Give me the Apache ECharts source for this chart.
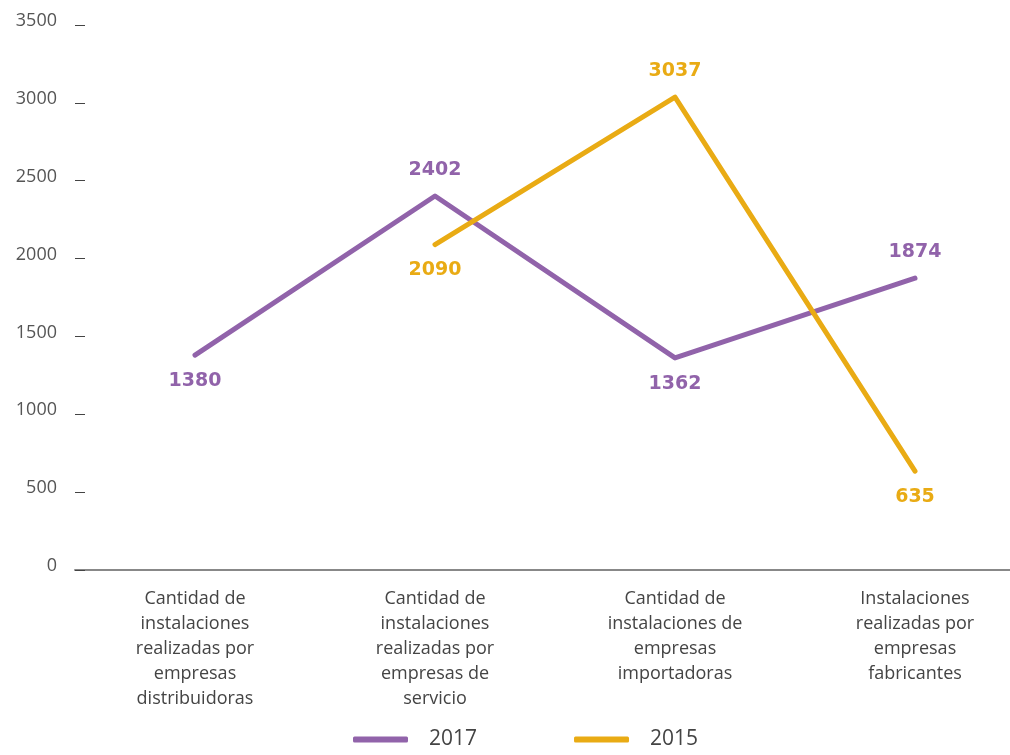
<!DOCTYPE html>
<html>
<head>
<meta charset="utf-8">
<script src="https://cdn.jsdelivr.net/npm/echarts@6/dist/echarts.min.js"></script>
<style>
  html, body { margin: 0; padding: 0; background: #fff; }
  #chart { width: 1010px; height: 755px; }
</style>
</head>
<body>
<div id="chart"></div>
<script>
// categorias (eje x)
var categories = [
  'Cantidad de\ninstalaciones\nrealizadas por\nempresas\ndistribuidoras',
  'Cantidad de\ninstalaciones\nrealizadas por\nempresas de\nservicio',
  'Cantidad de\ninstalaciones de\nempresas\nimportadoras',
  'Instalaciones\nrealizadas por\nempresas\nfabricantes'
]
// series
var values2017 = [1380, 2402, 1362, 1874]
var values2015 = [null, 2090, 3037, 635]
var seriesNames = ['2017', '2015']

// donde va cada etiqueta
var pos2017 = ['bottom', 'top', 'bottom', 'top']
var pos2015 = ['bottom', 'bottom', 'top', 'bottom']

var purple = '#9163aa'
var orange = '#e9ab14'
var font = "'Open Sans', sans-serif"

function withLabels (vals, pos) {
  return vals.map(function (v, i) {
    return { value: v, label: { show: true, position: pos[i] } }
  })
}

function lineSeries (name, vals, pos, color) {
  return {
    name: name,
    type: 'line',
    data: withLabels(vals, pos),
    symbol: 'circle',
    symbolSize: 3,
    showSymbol: true,
    color: color,
    itemStyle: { color: color },
    lineStyle: { width: 5, color: color, cap: 'round', join: 'round' },
    label: {
      show: true,
      distance: 15,
      color: color,
      fontFamily: "'DejaVu Sans', sans-serif",
      fontWeight: 'bold',
      fontSize: 19
    }
  }
}

var chart = echarts.init(document.getElementById('chart'))
chart.setOption({
  animation: false,
  grid: { left: 75, width: 960, top: 25, bottom: 185, outerBoundsMode: 'none', containLabel: false },
  legend: {
    bottom: 0,
    left: 348,
    icon: 'roundRect',
    itemWidth: 55,
    itemHeight: 6,
    itemGap: 97,
    data: seriesNames,
    textStyle: { color: '#444', fontSize: 21, fontFamily: font, padding: [0, 0, 0, 16] }
  },
  xAxis: {
    type: 'category',
    data: categories,
    boundaryGap: true,
    axisLine: { lineStyle: { color: '#888', width: 2 } },
    axisTick: { show: false },
    axisLabel: {
      interval: 0,
      margin: 16,
      color: '#444',
      fontSize: 18,
      lineHeight: 25,
      fontFamily: font
    }
  },
  yAxis: {
    type: 'value',
    min: 0,
    max: 3500,
    interval: 500,
    axisLine: { show: false },
    axisTick: { show: true, inside: true, length: 10, lineStyle: { color: '#444', width: 1 } },
    splitLine: { show: false },
    axisLabel: {
      margin: 18,
      color: '#555',
      fontSize: 18,
      fontFamily: font,
      verticalAlign: 'bottom',
      lineHeight: 8,
      formatter: function (v) { return String(v) }
    }
  },
  series: [
    lineSeries(seriesNames[0], values2017, pos2017, purple),
    lineSeries(seriesNames[1], values2015, pos2015, orange)
  ]
})
</script>
</body>
</html>
